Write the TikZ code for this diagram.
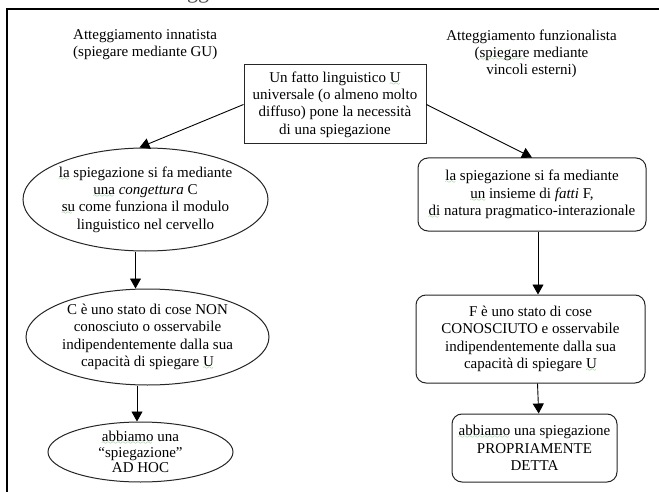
\documentclass[tikz,border=0pt]{standalone}
\usepackage{fontspec}
\setmainfont{Liberation Serif}
\usetikzlibrary{arrows.meta,shapes.geometric,calc}
\definecolor{wavegreen}{RGB}{70,170,70}
\font\wavyfont=lasy6
\newcommand\gw[1]{\setbox0\hbox{#1}\rlap{\textcolor{wavegreen}{\lower3pt\hbox to \wd0{\leaders\hbox{\wavyfont\char58}\hfil}}}\box0\relax}
\tikzset{
  txt/.style={font=\fontsize{15}{17.3}\selectfont, align=center, inner sep=0pt},
  ell/.style={txt, ellipse, draw=black!85, line width=1pt},
  rbox/.style={txt, rectangle, rounded corners=10pt, draw=black!85, line width=1pt},
  sbox/.style={txt, rectangle, draw=black!85, line width=1pt},
  arr/.style={draw=black, line width=0.9pt, -{Triangle[length=10pt,width=11pt]}},
  frame/.style={draw=black, line width=1.5pt}
}
\begin{document}
\begin{tikzpicture}[x=1pt,y=-1pt]
\useasboundingbox (0,0) rectangle (659,492);
\fill[white] (0,0) rectangle (659,492);
\draw[frame] (7,9) rectangle (720,560);
\node[font=\fontsize{22}{24}\selectfont, inner sep=0pt, anchor=base, text=black!70] (frag) at (198,-1) {gg};

\node[txt, align=left, anchor=north west] (t1) at (73,29.5) {Atteggiamento innatista\\(spiegare mediante GU)};
\node[txt, anchor=north] (t2) at (531.5,29.5) {Atteggiamento funzionalista\\(\gw{spiegare} mediante\\vincoli esterni)};

\node[sbox, minimum width=182pt, minimum height=79pt] (c) at (335,104.5)
  {Un fatto linguistico \gw{U}\\universale (o almeno molto\\diffuso) pone la necessità\\di una spiegazione};

\node[ell, minimum width=239pt, minimum height=103pt] (el1) at (145.5,199.5)
  {\gw{la} spiegazione si fa mediante\\\gw{una} \textit{congettura} C\\\gw{su} come funziona il modulo\\linguistico nel cervello};
\node[ell, minimum width=243pt, minimum height=96pt] (el2) at (147.5,337)
  {C è uno stato di cose NON\\conosciuto o osservabile\\indipendentemente dalla sua\\capacità di spiegare \gw{U}};
\node[ell, minimum width=185pt, minimum height=60pt, font=\fontsize{15}{15.8}\selectfont] (el3) at (140.5,452)
  {\gw{abbiamo} una\\“spiegazione”\\AD HOC};

\node[rbox, minimum width=228pt, minimum height=73pt] (r1) at (532,194.5)
  {\gw{la} spiegazione si fa mediante\\\gw{un} insieme di \textit{fatti} F,\\\gw{di} natura pragmatico-interazionale};
\node[rbox, minimum width=229pt, minimum height=88pt] (r2) at (530.5,339)
  {F è uno stato di cose\\CONOSCIUTO e osservabile\\indipendentemente dalla sua\\capacità di spiegare \gw{U}};
\node[rbox, minimum width=165pt, minimum height=68pt] (r3) at (534.5,448)
  {\gw{abbiamo} una spiegazione\\PROPRIAMENTE\\DETTA};

\draw[arr] (c.west) -- ([xshift=-6pt]el1.north);
\draw[arr] (c.east) -- (r1.north);
\draw[arr] ([xshift=-10pt]el1.south) -- ([xshift=-12pt]el2.north);
\draw[arr] ([xshift=-10.5pt]el2.south) -- ([xshift=-3.5pt]el3.north);
\draw[arr] ([xshift=6pt]r1.south) -- ([xshift=7.5pt]r2.north);
\draw[arr] ([xshift=7pt]r2.south) -- ([xshift=4.2pt]r3.north);
\end{tikzpicture}
\end{document}
